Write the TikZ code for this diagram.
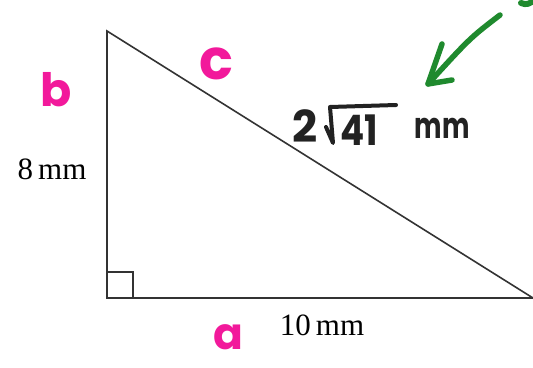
\documentclass[tikz,border=0pt]{standalone}
\usepackage{fontspec}
\setmainfont{Liberation Serif}
\newfontfamily\hand{Poppins}
\definecolor{pinkhand}{HTML}{F2199B}
\definecolor{greenhand}{HTML}{1F8A2E}
\definecolor{darkhand}{HTML}{222222}
\definecolor{edge}{HTML}{333333}
\tikzset{
  side/.style={draw=edge, line width=1.6pt},
  printed/.style={inner sep=0pt, font=\fontsize{31}{31}\selectfont, text=black},
  pinklabel/.style={inner sep=0pt, text=pinkhand},
  darklabel/.style={inner sep=0pt, text=darkhand},
  greenstroke/.style={draw=greenhand, line width=5.5pt, line cap=round, line join=round},
  darkstroke/.style={draw=darkhand, line width=4pt, line cap=round, line join=round}
}
\begin{document}
\begin{tikzpicture}[x=1pt,y=-1pt]
\useasboundingbox[fill=white] (0,0) rectangle (533,367);
% triangle
\coordinate (T) at (107,31);
\coordinate (R) at (107,298);
\coordinate (E) at (533,298);
\draw[side, line join=miter] (T) -- (R) -- (E) -- cycle;
\coordinate (q1) at (107,272);
\coordinate (q2) at (133,272);
\coordinate (q3) at (133,298);
\draw[draw=edge, line width=1.3pt] (q1) -- (q2) -- (q3);
% printed labels
\node[printed] (eight) at (52,169) {8\,mm};
\node[printed] (ten) at (322,325) {10\,mm};
% pink labels
\node[pinklabel, font=\hand\bfseries\fontsize{46}{46}\selectfont] (lb) at (56,90) {b};
\node[pinklabel, font=\hand\bfseries\fontsize{56}{56}\selectfont] (lc) at (216,64) {c};
\node[pinklabel, font=\hand\bfseries\fontsize{44}{44}\selectfont] (la) at (228,337) {a};
% handwritten hypotenuse value
\node[darklabel, font=\hand\bfseries\fontsize{44}{44}\selectfont] (two) at (305,126) {2};
\node[darklabel, font=\hand\bfseries\fontsize{42}{42}\selectfont, xscale=0.85] (ff) at (359,130) {41};
\node[darklabel, font=\hand\bfseries\fontsize{36}{36}\selectfont, xscale=0.72] (mm) at (442,128) {mm};
\coordinate (r1) at (326,127);
\coordinate (r2) at (333,143);
\coordinate (r3) at (330,107);
\coordinate (r4) at (396,105);
\draw[darkstroke] (r1) -- (r2) -- (r3) -- (r4);
% green arrow
\coordinate (g0) at (500,15);
\coordinate (g1) at (428,84);
\coordinate (gb1) at (442,44);
\coordinate (gb2) at (452,80);
\draw[greenstroke] (g0) .. controls (470,38) .. (g1);
\draw[greenstroke] (gb1) -- (g1) -- (gb2);
\coordinate (h0) at (521,3);
\coordinate (h1) at (538,-2);
\draw[greenstroke, line width=6pt] (h0) .. controls (527,5) .. (h1);
\end{tikzpicture}
\end{document}
